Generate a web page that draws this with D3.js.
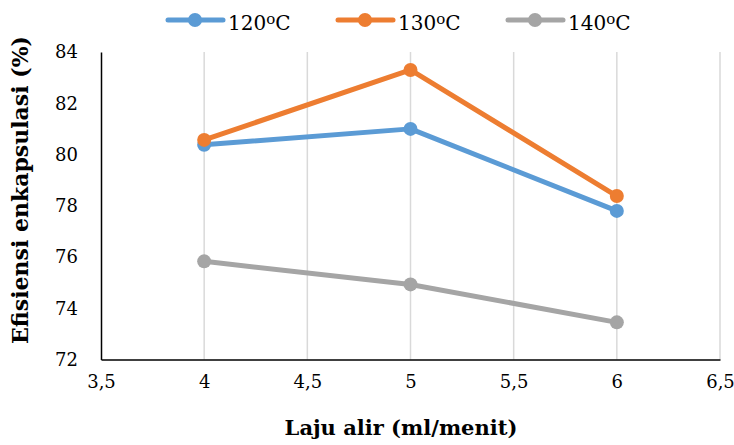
<!DOCTYPE html>
<html><head><meta charset="utf-8">
<script src="https://cdn.jsdelivr.net/npm/d3@7"></script>
<style>body{margin:0;background:#fff;} svg{display:block;font-family:"DejaVu Serif",serif;}</style>
</head><body>
<svg id="c" width="734" height="445"></svg>
<script>
const xValues = [4, 5, 6];
const seriesNames = ["120", "130", "140"];
const series120 = [80.38, 81.0, 77.8];
const series130 = [80.57, 83.3, 78.38];
const series140 = [75.83, 74.93, 73.45];
const seriesColors = ["#5b9bd5", "#ed7d31", "#a5a5a5"];
const xTicks = [3.5, 4, 4.5, 5, 5.5, 6, 6.5];
const yTicks = [72, 74, 76, 78, 80, 82, 84];

const allSeries = [series120, series130, series140];
const svg = d3.select("#c");
const x = d3.scaleLinear().domain([3.5, 6.5]).range([101, 720]);
const y = d3.scaleLinear().domain([72, 84]).range([359.5, 52]);

// vertical gridlines
svg.append("g").selectAll("line").data(xTicks.slice(1)).join("line")
  .attr("x1", d => x(d)).attr("x2", d => x(d))
  .attr("y1", y(84)).attr("y2", y(72))
  .attr("stroke", "#d9d9d9").attr("stroke-width", 1.5);

// axes
const xAxis = d3.axisBottom(x).tickValues(xTicks).tickSize(0).tickPadding(16)
  .tickFormat(d => String(d).replace(".", ","));
const gx = svg.append("g").attr("transform", `translate(0,${y(72)})`).call(xAxis);
gx.select(".domain").attr("stroke", "#000").attr("stroke-width", 1.5);
gx.selectAll("text").attr("font-size", 18).attr("fill", "#000").attr("font-family", "DejaVu Serif, serif");

const yAxis = d3.axisLeft(y).tickValues(yTicks).tickSize(0).tickPadding(23);
const gy = svg.append("g").attr("transform", `translate(${x(3.5)},0)`).call(yAxis);
gy.select(".domain").attr("stroke", "#000").attr("stroke-width", 1.5);
gy.selectAll("text").attr("font-size", 18).attr("fill", "#000").attr("font-family", "DejaVu Serif, serif");

// lines
const line = d3.line().x((d, i) => x(xValues[i])).y(d => y(d));
allSeries.forEach((s, k) => {
  svg.append("path").datum(s).attr("d", line)
    .attr("fill", "none").attr("stroke", seriesColors[k]).attr("stroke-width", 5)
    .attr("stroke-linejoin", "round");
  svg.append("g").selectAll("circle").data(s).join("circle")
    .attr("cx", (d, i) => x(xValues[i])).attr("cy", d => y(d)).attr("r", 7)
    .attr("fill", seriesColors[k]);
});

// axis titles
svg.append("text").attr("x", 401).attr("y", 435).attr("text-anchor", "middle")
  .attr("font-size", 21).attr("font-weight", "bold").text("Laju alir (ml/menit)");
svg.append("text").attr("transform", "translate(28,190) rotate(-90)").attr("text-anchor", "middle")
  .attr("font-size", 22).attr("font-weight", "bold").text("Efisiensi enkapsulasi (%)");

// legend
const legX = [168, 338, 508];
seriesNames.forEach((n, k) => {
  const g = svg.append("g").attr("transform", `translate(${legX[k]},20)`);
  g.append("line").attr("x1", 0).attr("x2", 55).attr("y1", 0).attr("y2", 0)
    .attr("stroke", seriesColors[k]).attr("stroke-width", 5).attr("stroke-linecap", "round");
  g.append("circle").attr("cx", 27).attr("cy", 0).attr("r", 7).attr("fill", seriesColors[k]);
  const t = g.append("text").attr("x", 60).attr("y", 10).attr("font-size", 20).attr("fill", "#000");
  t.append("tspan").text(n);
  t.append("tspan").attr("font-size", 15).attr("dy", -6).text("o");
  t.append("tspan").attr("dy", 6).text("C");
});
</script>
</body></html>
